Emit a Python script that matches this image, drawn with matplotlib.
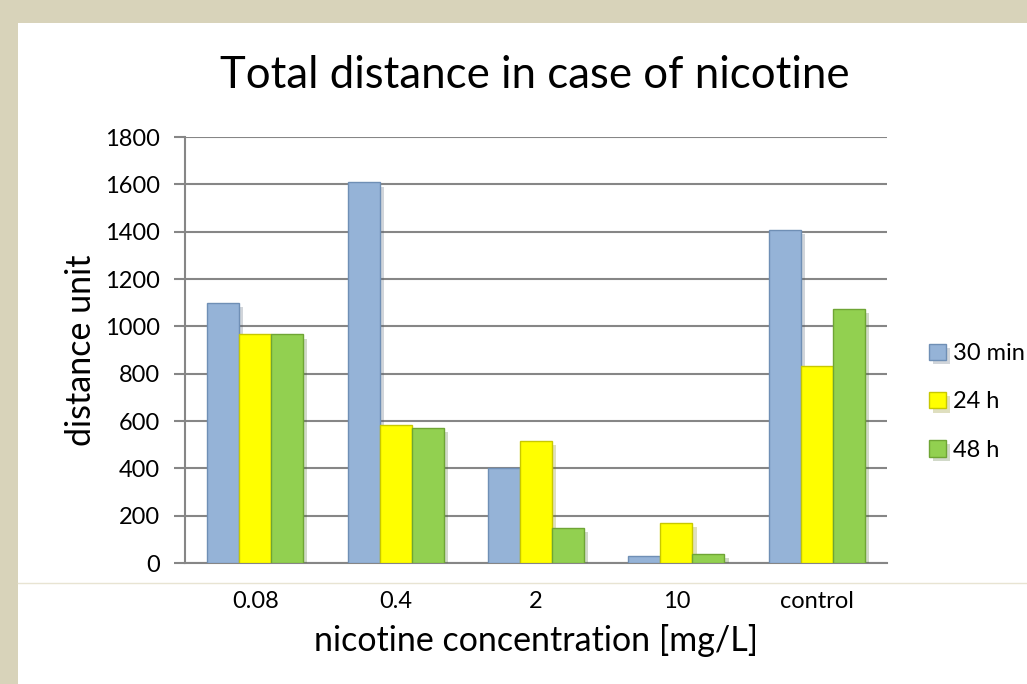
import numpy as np
import matplotlib.pyplot as plt
from matplotlib.patches import Rectangle
import matplotlib.patheffects as pe

plt.rcParams["font.family"] = ["Lato", "DejaVu Sans"]

# ---- data ----
categories = ["0.08", "0.4", "2", "10", "control"]
series_names = ["30 min", "24 h", "48 h"]
min30 = [1098, 1608, 401, 31, 1407]
h24 = [969, 583, 517, 168, 831]
h48 = [966, 572, 148, 38, 1072]

face_colors = ["#95B3D7", "#FFFF00", "#92D050"]
edge_colors = ["#6F8FB5", "#C8C800", "#6FA535"]

fig = plt.figure(figsize=(10.27, 6.84), dpi=100)
fig.patch.set_facecolor("#D8D3BA")

# white slide panel (behind the axes)
fig.add_artist(Rectangle((18 / 1027, 0), 1 - 18 / 1027, 1 - 23 / 684,
                         transform=fig.transFigure, facecolor="white",
                         edgecolor="none", zorder=-2))
fig.add_artist(plt.Line2D([18 / 1027, 1], [1 - 583 / 684, 1 - 583 / 684],
                          transform=fig.transFigure, color="#E8E4D2", lw=1,
                          zorder=-1))

ax = fig.add_axes([185 / 1027, 1 - 563 / 684, (887 - 185) / 1027, (563 - 137) / 684])
ax.set_facecolor("none")

x = np.arange(len(categories))
w = 0.228
shadow = [pe.SimplePatchShadow(offset=(3, -3), alpha=0.25, rho=0.5), pe.Normal()]
for i, vals in enumerate([min30, h24, h48]):
    bars = ax.bar(x + (i - 1) * w, vals, w, color=face_colors[i],
                  edgecolor=edge_colors[i], linewidth=1.0, label=series_names[i],
                  zorder=3)
    for b in bars:
        b.set_path_effects(shadow)

ax.set_xlim(-0.5, len(categories) - 0.5)
ax.set_ylim(0, 1800)
ax.set_yticks(np.arange(0, 1801, 200))
ax.set_xticks(x)
ax.set_xticklabels(categories)
ax.yaxis.grid(True, color="#868686", linewidth=1.5, zorder=0)
ax.set_axisbelow(True)

for s in ["top", "right"]:
    ax.spines[s].set_visible(False)
ax.spines["left"].set_color("#868686")
ax.spines["left"].set_linewidth(1.5)
ax.spines["bottom"].set_color("#868686")
ax.spines["bottom"].set_linewidth(1.5)
ax.tick_params(axis="y", length=8, width=1.5, color="#868686", labelsize=17, pad=10)
ax.tick_params(axis="x", length=0, labelsize=17, pad=20)

ax.set_ylabel("distance unit", fontsize=24.5, labelpad=6)
ax.set_xlabel("nicotine concentration [mg/L]", fontsize=24.5, labelpad=9)
fig.text(0.521, 1 - 75 / 684, "Total distance in case of nicotine",
         fontsize=31.5, ha="center", va="center")

leg = ax.legend(loc="center left", bbox_to_anchor=(1.03, 0.378), frameon=False,
                fontsize=17, handlelength=0.7, handleheight=0.7,
                labelspacing=1.15, handletextpad=0.3)

fig.savefig("out.png", dpi=100, facecolor=fig.get_facecolor())
